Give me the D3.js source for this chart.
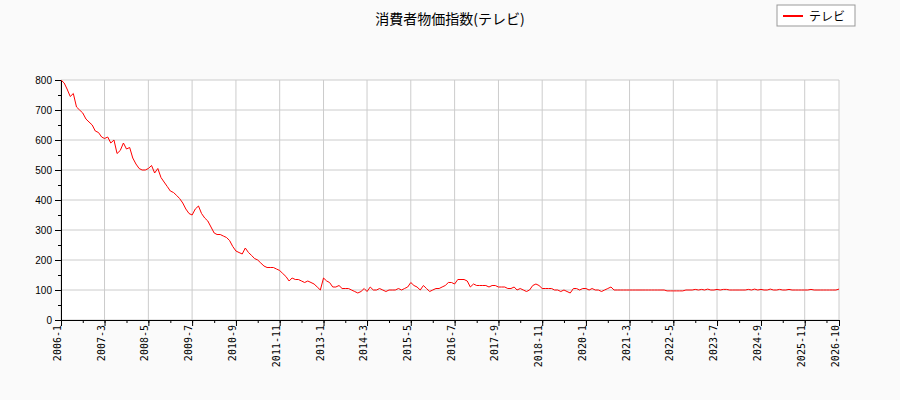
<!DOCTYPE html>
<html><head><meta charset="utf-8">
<script src="https://cdn.jsdelivr.net/npm/d3@7"></script>
<style>body{margin:0;background:#fafafa}svg{font-family:"DejaVu Sans",sans-serif}</style>
</head><body><div id="page"></div>
<script>
const title = '消費者物価指数(テレビ)';
const seriesName = 'テレビ';
const startYear = 2006, startMonth = 1;
const values = [
800,790,770,745,755,710,700,690,670,660,650,630,625,610,605,610,590,600,555,565,590,570,575,540,520,505,500,500,505,515,
490,505,475,460,445,430,425,415,405,390,370,355,350,370,380,355,340,330,310,290,285,285,280,275,265,245,230,225,220,240,
225,215,205,200,190,180,175,175,175,170,165,155,145,130,140,135,135,130,125,130,125,120,110,100,140,130,125,110,110,115,
105,105,105,100,95,90,95,105,95,110,100,100,105,100,95,100,100,100,105,100,105,110,125,115,110,100,115,105,95,100,
105,105,110,115,125,125,120,135,135,135,130,110,120,115,115,115,115,110,115,115,110,110,110,105,105,110,100,105,100,95,
100,115,120,115,105,105,105,105,100,100,95,100,95,90,105,105,100,105,105,100,105,100,100,95,100,105,110,100,100,100,
100,100,100,100,100,100,100,100,100,100,100,100,100,100,97,97,97,97,97,97,100,100,100,102,100,102,100,103,100,100,
102,100,102,102,100,100,100,100,100,100,102,100,103,100,102,100,100,103,100,100,102,100,100,102,100,100,100,100,100,100,
102,100,100,100,100,100,100,100,100,103];
const yTicks = [0,100,200,300,400,500,600,700,800];

const W = 900, H = 400, m = {l:61, r:61, t:80, b:80};
const svg = d3.select('#page').append('svg').attr('width', W).attr('height', H);
const dates = values.map((v, i) => new Date(startYear, startMonth - 1 + i, 1));
const x = d3.scaleTime().domain([dates[0], dates[dates.length - 1]]).range([m.l, W - m.r]);
const y = d3.scaleLinear().domain([0, 800]).range([H - m.b, m.t]);

svg.append('rect').attr('x', m.l).attr('y', m.t).attr('width', W - m.l - m.r).attr('height', H - m.t - m.b).attr('fill', '#fff');

const xTickDates = d3.range(0, values.length, 14).map(i => dates[i]);
const xMinor = d3.range(0, values.length, 7).map(i => dates[i]);
xTickDates.push(dates[values.length - 1]);

const g = svg.append('g');
g.selectAll('.vg').data(xTickDates).join('line').attr('x1', d => x(d)).attr('x2', d => x(d))
  .attr('y1', m.t).attr('y2', H - m.b).attr('stroke', '#ccc');
g.selectAll('.hg').data(yTicks).join('line').attr('x1', m.l).attr('x2', W - m.r)
  .attr('y1', d => y(d)).attr('y2', d => y(d)).attr('stroke', '#ccc');

const xa = svg.append('g').attr('transform', `translate(0,${H - m.b})`)
  .call(d3.axisBottom(x).tickValues(xTickDates).tickSizeOuter(0)
    .tickFormat(d => d.getFullYear() + '-' + (d.getMonth() + 1)));
xa.selectAll('text').attr('transform', 'rotate(-90)').attr('text-anchor', 'end')
  .attr('x', -5).attr('y', -4).attr('dy', '0.35em').style('font-size', '10px').style('font-family', 'DejaVu Sans Mono');
svg.append('g').attr('transform', `translate(0,${H - m.b})`)
  .call(d3.axisBottom(x).tickValues(xMinor).tickFormat('').tickSize(3)).select('.domain').remove();

const ya = svg.append('g').attr('transform', `translate(${m.l},0)`)
  .call(d3.axisLeft(y).tickValues(yTicks).tickSizeOuter(0));
ya.selectAll('text').style('font-size', '10px');
svg.append('g').attr('transform', `translate(${m.l},0)`)
  .call(d3.axisLeft(y).tickValues(d3.range(50, 800, 100)).tickFormat('').tickSize(3)).select('.domain').remove();

svg.append('path').datum(values).attr('fill', 'none').attr('stroke', 'red').attr('stroke-width', 1)
  .attr('d', d3.line().x((d, i) => x(dates[i])).y(d => y(d)));

svg.append('text').attr('x', W / 2).attr('y', 24).attr('text-anchor', 'middle')
  .style('font-family', '"Noto Sans CJK JP"').style('font-size', '14px').text(title);

const lg = svg.append('g').attr('transform', 'translate(777,5)');
lg.append('rect').attr('width', 78).attr('height', 21).attr('fill', '#fff').attr('stroke', '#999');
lg.append('line').attr('x1', 6).attr('x2', 26).attr('y1', 11).attr('y2', 11).attr('stroke', 'red').attr('stroke-width', 2);
lg.append('text').attr('x', 32).attr('y', 15.5).style('font-family', '"Noto Sans CJK JP"').style('font-size', '12px').text(seriesName);
</script></body></html>
